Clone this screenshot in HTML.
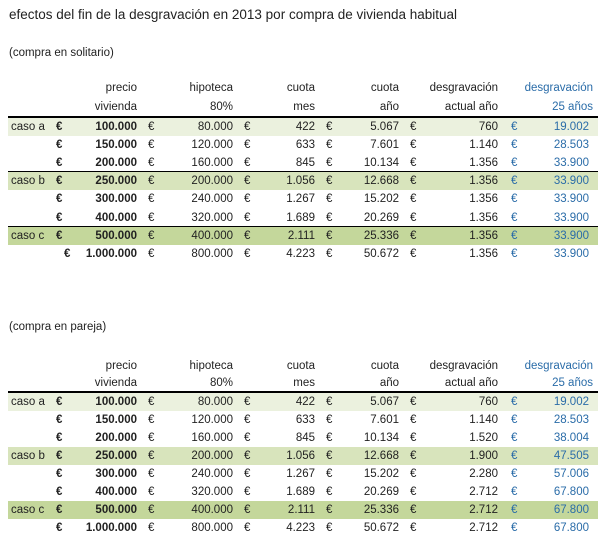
<!DOCTYPE html>
<html><head><meta charset="utf-8"><style>
body{margin:0;width:606px;height:542px;background:#fff;font-family:"Liberation Sans",sans-serif;font-size:11.5px;color:#222;position:relative;overflow:hidden}
.t{position:absolute;white-space:nowrap;line-height:14px}
.bg{position:absolute;left:8px;width:590px}
.ln{position:absolute;left:8px;width:590px;background:#000}
.blue{color:#2a6ca8}
.b{font-weight:bold}
</style></head><body>
<div class="t" style="left:9px;top:8px;font-size:13.5px">efectos del fin de la desgravación en 2013 por compra de vivienda habitual</div>
<div id="root"></div>
<script>
const caseLabels=["caso a","","","caso b","","","caso c",""];
const precio=["100.000","150.000","200.000","250.000","300.000","400.000","500.000","1.000.000"];
const hipoteca=["80.000","120.000","160.000","200.000","240.000","320.000","400.000","800.000"];
const cuotaMes=["422","633","845","1.056","1.267","1.689","2.111","4.223"];
const cuotaAno=["5.067","7.601","10.134","12.668","15.202","20.269","25.336","50.672"];
const desgSolo=["760","1.140","1.356","1.356","1.356","1.356","1.356","1.356"];
const desg25Solo=["19.002","28.503","33.900","33.900","33.900","33.900","33.900","33.900"];
const desgPareja=["760","1.140","1.520","1.900","2.280","2.712","2.712","2.712"];
const desg25Pareja=["19.002","28.503","38.004","47.505","57.006","67.800","67.800","67.800"];
const rowBg=["#ebf1de","","","#d8e4bc","","","#c4d79b",""];
const root=document.getElementById('root');
function txt(s,x,y,cls,right,name){
  const d=document.createElement('div');
  d.className='t '+(cls||'');
  d.textContent=s;
  
  
  if(right){d.style.right=(606-x)+'px';}else{d.style.left=x+'px';}
  d.style.top=(y-7)+'px';
  root.appendChild(d);
}
function table(subY,subText,h1,h2,lineY,rowH,seps,desg,desg25,prefix){
  txt(subText,9,subY,'',false,prefix+'-subtitle');
  const hx=[137,233,315,399,498,593];
  const l1=["precio","hipoteca","cuota","cuota","desgravación","desgravación"];
  const l2=["vivienda","80%","mes","año","actual año","25 años"];
  for(let i=0;i<6;i++){
    txt(l1[i],hx[i],h1,i==5?'blue':'',true,prefix+'-header');
    txt(l2[i],hx[i],h2,i==5?'blue':'',true,prefix+'-header');
  }
  const ln=document.createElement('div');ln.className='ln';
  
  
  ln.style.top=(lineY-1)+'px';ln.style.height='2px';root.appendChild(ln);
  for(let i=0;i<8;i++){
    const top=lineY+1+i*rowH;
    if(rowBg[i]){
      const b=document.createElement('div');b.className='bg';
      
      
      b.style.top=top+'px';b.style.height=rowH+'px';b.style.background=rowBg[i];root.appendChild(b);
      if(seps&&i>0){
        const s=document.createElement('div');s.className='ln';
        
        
        s.style.top=(top-1)+'px';s.style.height='1px';root.appendChild(s);
      }
    }
    const cy=top+rowH/2;
    if(caseLabels[i])txt(caseLabels[i],11,cy,'',false,prefix+'-case-label');
    txt('€',(i==7&&seps)?64:56,cy,'b',false,prefix+'-euro');
    txt(precio[i],137,cy,'b',true,prefix+'-precio');
    txt('€',148,cy,'',false,prefix+'-euro');
    txt(hipoteca[i],233,cy,'',true,prefix+'-hipoteca');
    txt('€',244,cy,'',false,prefix+'-euro');
    txt(cuotaMes[i],315,cy,'',true,prefix+'-cuota-mes');
    txt('€',326,cy,'',false,prefix+'-euro');
    txt(cuotaAno[i],399,cy,'',true,prefix+'-cuota-ano');
    txt('€',410,cy,'',false,prefix+'-euro');
    txt(desg[i],498,cy,'',true,prefix+'-desgravacion-ano');
    txt('€',511,cy,'blue',false,prefix+'-euro');
    txt(desg25[i],589,cy,'blue',true,prefix+'-desgravacion-25');
  }
}
table(53,'(compra en solitario)',88,107,117,18.1,true,desgSolo,desg25Solo,'solitario');
table(327,'(compra en pareja)',366,383,392,18,false,desgPareja,desg25Pareja,'pareja');
</script>
</body></html>
